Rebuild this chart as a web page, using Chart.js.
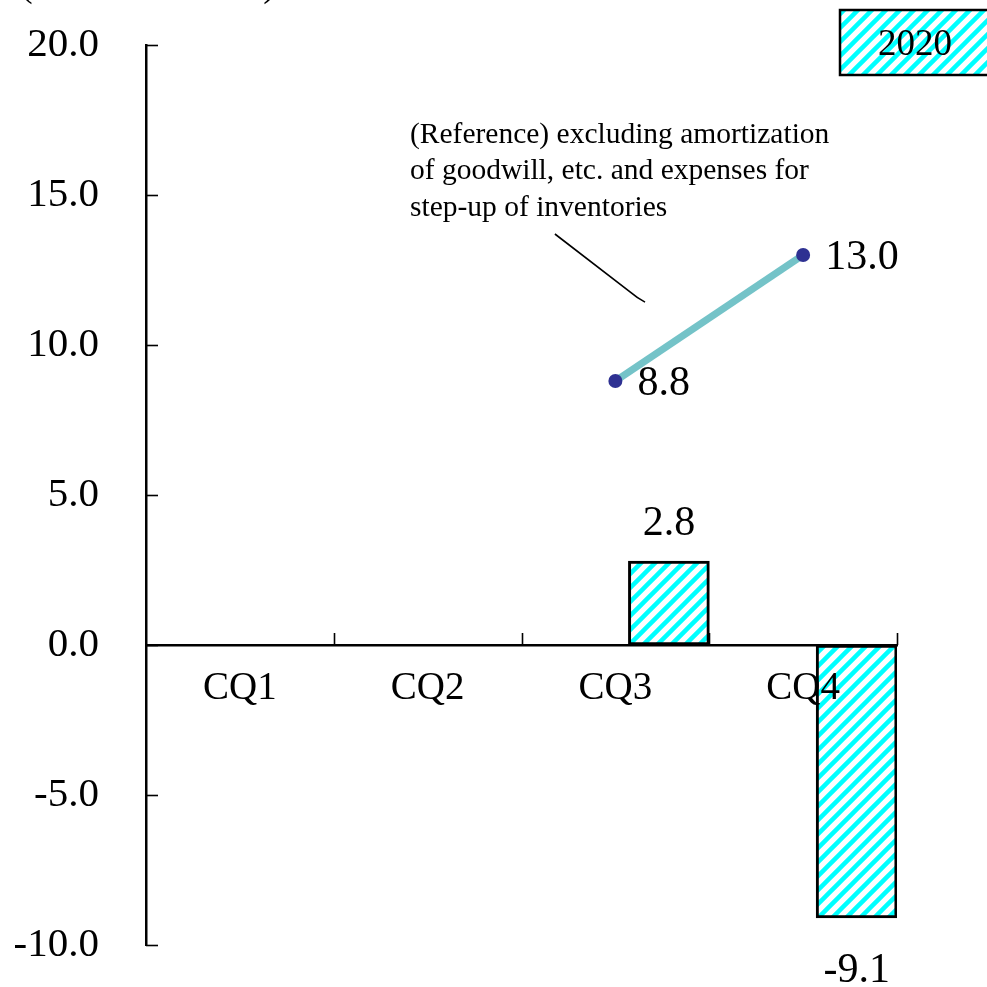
<!DOCTYPE html>
<html>
<head>
<meta charset="utf-8">
<script src="https://cdn.jsdelivr.net/npm/chart.js@4.4.1/dist/chart.umd.min.js"></script>
<style>
  html, body { margin: 0; padding: 0; background: #fff; }
  #wrap { width: 987px; height: 987px; }
</style>
</head>
<body>
<div id="wrap"><canvas id="c" width="987" height="987"></canvas></div>
<script>
// ---- data ----
const quarters = ['CQ1', 'CQ2', 'CQ3', 'CQ4'];
const operatingIncome2020 = [null, null, 2.8, -9.1];
const excludingAmortization = [null, null, 8.8, 13.0];
const yTickValues = [-10, -5, 0, 5, 10, 15, 20];
const seriesName = '2020';
const unitLabel = '(Billions of Yen)';
const noteLines = [
  '(Reference) excluding amortization',
  'of goodwill, etc. and expenses for',
  'step-up of inventories'
];

// ---- styling ----
const FONT = "'Liberation Serif', 'Times New Roman', serif";
const BAR_SHIFT = 0.285;          // bars sit right of each quarter's centre
const LINE_COLOR = '#74c3c8';
const POINT_COLOR = '#2e3192';

const canvas = document.getElementById('c');
const ctx = canvas.getContext('2d');

// diagonal cyan hatch used for the 2020 bars and the legend key
function makeHatch() {
  const s = 14;
  const tile = document.createElement('canvas');
  tile.width = tile.height = s;
  const g = tile.getContext('2d');
  g.fillStyle = '#ffffff';
  g.fillRect(0, 0, s, s);
  g.strokeStyle = '#00ffff';
  g.lineWidth = 4.5;
  g.beginPath();
  g.moveTo(-s / 2, s / 2); g.lineTo(s / 2, -s / 2);
  g.moveTo(0, s); g.lineTo(s, 0);
  g.moveTo(s / 2, s * 1.5); g.lineTo(s * 1.5, s / 2);
  g.stroke();
  return ctx.createPattern(tile, 'repeat');
}
const hatch = makeHatch();

const barPoints = operatingIncome2020
  .map((v, i) => (v === null ? null : { x: i + BAR_SHIFT, y: v }))
  .filter(Boolean);

// small inward tick marks on the value axis, upward marks at quarter boundaries
const tickMarks = {
  id: 'tickMarks',
  afterDraw(chart) {
    const { ctx, scales: { x, y } } = chart;
    ctx.save();
    ctx.strokeStyle = '#000';
    ctx.lineWidth = 1.6;
    y.ticks.forEach(t => {
      const py = Math.round(y.getPixelForValue(t.value)) + 0.5;
      ctx.beginPath();
      ctx.moveTo(y.right, py);
      ctx.lineTo(y.right + 12, py);
      ctx.stroke();
    });
    const y0 = y.getPixelForValue(0);
    for (let i = 1; i <= quarters.length; i++) {
      const px = Math.round(x.left + (x.right - x.left) * i / quarters.length) + 0.5;
      ctx.beginPath();
      ctx.moveTo(px, y0);
      ctx.lineTo(px, y0 - 12);
      ctx.stroke();
    }
    ctx.restore();
  }
};

// value labels next to bars and points
const valueLabels = {
  id: 'valueLabels',
  afterDatasetsDraw(chart) {
    const { ctx } = chart;
    ctx.save();
    ctx.fillStyle = '#000';
    ctx.font = `42px ${FONT}`;
    ctx.textBaseline = 'middle';
    const barMeta = chart.getDatasetMeta(0);
    ctx.textAlign = 'center';
    barMeta.data.forEach((el, i) => {
      const v = barPoints[i].y;
      const ty = v >= 0 ? el.y - 37 : el.y + 53;
      ctx.fillText(v.toFixed(1), el.x, ty);
    });
    const lineMeta = chart.getDatasetMeta(1);
    ctx.textAlign = 'left';
    lineMeta.data.forEach((pt, i) => {
      const v = excludingAmortization[i];
      if (v === null || pt.skip) return;
      ctx.fillText(v.toFixed(1), pt.x + 22, pt.y + 3);
    });
    ctx.restore();
  }
};

// note text with leader line, unit caption and legend key
const extras = {
  id: 'extras',
  afterDraw(chart) {
    const { ctx, chartArea, scales: { xv, y } } = chart;
    const P = (i, v) => [xv.getPixelForValue(i), y.getPixelForValue(v)];
    ctx.save();

    // note
    ctx.fillStyle = '#000';
    ctx.font = `29.5px ${FONT}`;
    ctx.textAlign = 'left';
    ctx.textBaseline = 'middle';
    const [nx, ny] = P(0.906, 17.0);
    noteLines.forEach((t, k) => ctx.fillText(t, nx, ny + k * 36.5));

    // leader line
    const a = P(1.678, 13.7), b = P(2.078, 11.77), c = P(2.115, 11.57), d = P(2.158, 11.43);
    ctx.strokeStyle = '#000';
    ctx.lineWidth = 1.6;
    ctx.beginPath();
    ctx.moveTo(a[0], a[1]);
    ctx.lineTo(b[0], b[1]);
    ctx.quadraticCurveTo(c[0], c[1], d[0], d[1]);
    ctx.stroke();

    // unit caption (sits at the very top edge)
    ctx.font = `38px ${FONT}`;
    ctx.textBaseline = 'alphabetic';
    ctx.fillText(unitLabel, 20, -4);

    // legend key
    const lx = chartArea.right - 57, ly = chartArea.top - 35;
    ctx.fillStyle = hatch;
    ctx.fillRect(lx, ly, 170, 65);
    ctx.strokeStyle = '#000';
    ctx.lineWidth = 2.5;
    ctx.strokeRect(lx, ly, 170, 65);
    ctx.fillStyle = '#000';
    ctx.font = `37px ${FONT}`;
    ctx.textAlign = 'center';
    ctx.textBaseline = 'middle';
    ctx.fillText(seriesName, lx + 75, ly + 35);

    ctx.restore();
  }
};

new Chart(ctx, {
  data: {
    labels: quarters,
    datasets: [
      {
        type: 'bar',
        label: seriesName,
        xAxisID: 'xv',
        data: barPoints,
        backgroundColor: hatch,
        borderColor: '#000',
        borderWidth: 3,
        borderSkipped: false,
        grouped: false,
        barThickness: 81,
        maxBarThickness: 81,
        order: 2
      },
      {
        type: 'line',
        label: 'excluding amortization',
        xAxisID: 'x',
        data: excludingAmortization,
        borderColor: LINE_COLOR,
        borderWidth: 7,
        pointRadius: 7,
        pointHoverRadius: 7,
        pointBackgroundColor: POINT_COLOR,
        pointBorderColor: POINT_COLOR,
        pointBorderWidth: 0,
        tension: 0,
        order: 1
      }
    ]
  },
  options: {
    responsive: false,
    animation: false,
    events: [],
    layout: { padding: { left: 0, right: 90, top: 45, bottom: 42 } },
    plugins: { legend: { display: false }, tooltip: { enabled: false } },
    scales: {
      x: {
        type: 'category',
        labels: quarters,
        position: { y: 0 },
        offset: true,
        afterFit: s => { s.height = 0; s.paddingTop = 0; s.paddingBottom = 0; },
        grid: { display: false },
        border: { display: true, color: '#000', width: 2.5, z: 1 },
        ticks: { color: '#000', font: { family: FONT, size: 39 }, padding: 12, maxRotation: 0, z: 1 }
      },
      xv: { type: 'linear', min: -0.5, max: 3.5, offset: false, display: false },
      y: {
        min: -10,
        max: 20,
        afterBuildTicks: s => { s.ticks = yTickValues.map(v => ({ value: v })); },
        afterFit: s => { s.width = 146; s.paddingTop = 0; s.paddingBottom = 0; },
        grid: { display: false },
        border: { display: true, color: '#000', width: 2.5 },
        ticks: {
          color: '#000',
          font: { family: FONT, size: 41 },
          padding: 39,
          callback: v => Number(v).toFixed(1)
        }
      }
    }
  },
  plugins: [tickMarks, valueLabels, extras]
});
</script>
</body>
</html>
